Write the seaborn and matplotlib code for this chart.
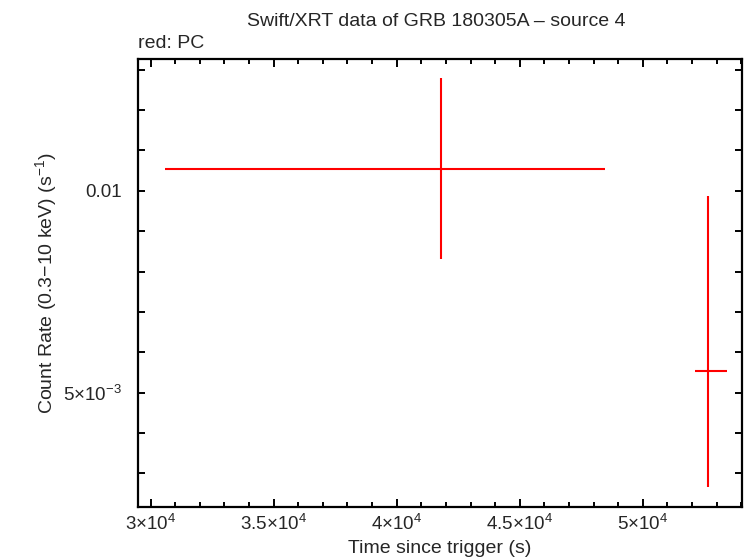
import numpy as np
import matplotlib
matplotlib.use('Agg')
import matplotlib.pyplot as plt
import seaborn as sns
from matplotlib.ticker import FixedLocator, MultipleLocator, NullFormatter

# PC data points (time in s, count rate in 1/s)
t_mid = [41789, 52654]
t_lo = [30581, 52142]
t_hi = [48467, 53419]
rate = [0.010784, 0.005392]
rate_lo = [0.007910, 0.003614]
rate_hi = [0.014707, 0.009819]

x_ticks = [30000, 35000, 40000, 45000, 50000]
x_labels = [r'$3{\times}10^{4}$', r'$3.5{\times}10^{4}$', r'$4{\times}10^{4}$',
            r'$4.5{\times}10^{4}$', r'$5{\times}10^{4}$']
y_ticks = [0.005, 0.01]
y_labels = [r'$5{\times}10^{-3}$', '0.01']


def draw():
    sns.set_style('ticks')
    plt.rcParams['font.family'] = ['Liberation Sans', 'DejaVu Sans']
    plt.rcParams['mathtext.fontset'] = 'custom'
    plt.rcParams['mathtext.rm'] = 'Liberation Sans'
    plt.rcParams['mathtext.it'] = 'Liberation Sans:italic'
    plt.rcParams['mathtext.bf'] = 'Liberation Sans:bold'

    fig = plt.figure(figsize=(7.46, 5.58), dpi=100)
    ax = fig.add_axes([0.1854, 0.0909, 0.8088, 0.8034])

    t = np.array(t_mid)
    r = np.array(rate)
    xerr = [t - np.array(t_lo), np.array(t_hi) - t]
    yerr = [r - np.array(rate_lo), np.array(rate_hi) - r]
    ax.errorbar(t, r, xerr=xerr, yerr=yerr, fmt='none', ecolor='red',
                elinewidth=1.5, capsize=0)

    ax.set_yscale('log')
    ax.set_xlim(29500, 54020)
    ax.set_ylim(0.0033745, 0.015718)

    ax.set_xticks(x_ticks)
    ax.set_xticklabels(x_labels)
    ax.xaxis.set_minor_locator(MultipleLocator(1000))

    step = np.log10(2) / 5
    minor = [10 ** (np.log10(0.005) + k * step) for k in range(-3, 10)]
    minor = [v for v in minor if abs(v - 0.005) > 1e-6 and abs(v - 0.01) > 1e-6]
    ax.yaxis.set_major_locator(FixedLocator(y_ticks))
    ax.set_yticklabels(y_labels)
    ax.yaxis.set_minor_locator(FixedLocator(minor))
    ax.yaxis.set_minor_formatter(NullFormatter())

    for s in ax.spines.values():
        s.set_linewidth(1.6)
        s.set_color('black')
    ax.tick_params(which='both', direction='in', top=True, right=True,
                   color='black', width=1.4, labelsize=13.5)
    ax.tick_params(axis='x', which='major', length=6, pad=5)
    ax.tick_params(axis='x', which='minor', length=3.6)
    ax.tick_params(axis='y', which='both', length=5, pad=12)

    ax.set_xlabel('Time since trigger (s)', fontsize=14, labelpad=4)
    ax.set_ylabel(r'Count Rate (0.3$-$10 keV) (s$^{-1}$)', fontsize=14, labelpad=3)
    fig.text(0.585, 0.962, 'Swift/XRT data of GRB 180305A \u2013 source 4',
             ha='center', va='center', fontsize=14)
    fig.text(0.1854, 0.922, 'red: PC', ha='left', va='center', fontsize=14)

    fig.savefig('out.png', dpi=100)


def main():
    draw()


if __name__ == '__main__':
    main()
